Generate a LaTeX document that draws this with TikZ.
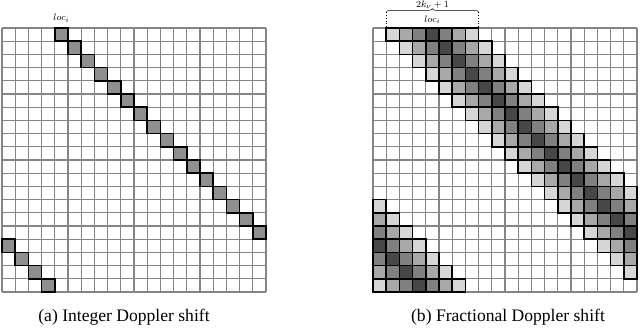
\documentclass[tikz,border=0pt]{standalone}
\usepackage{fontspec}
\setmainfont{Liberation Serif}
\usetikzlibrary{decorations.pathreplacing}
\tikzset{
  gridline/.style={draw=black!48, line width=1.1pt},
  hitcell/.style={draw=black, line width=1.3pt, fill=black!44},
  bandcell/.style={draw=black, line width=1.3pt},
  caption/.style={font=\fontsize{15}{18}\selectfont},
  tag/.style={font=\footnotesize, inner sep=1pt},
}
\begin{document}
\begin{tikzpicture}[x=0.03cm, y=0.03cm]
  \useasboundingbox (0,0) rectangle (640,334);
  % (a) integer shift
  \begin{scope}[xshift=0.06cm, yshift=1.26cm, x=0.396cm, y=0.396cm]
    \foreach \i in {0,...,20} {
      \draw[gridline] (\i,0) -- (\i,20);
      \draw[gridline] (0,\i) -- (20,\i);
    }
    \foreach \r in {0,...,19} {
      \pgfmathtruncatemacro\c{mod(4+\r,20)}
      \draw[hitcell] (\c,19-\r) rectangle ++(1,1);
    }
    \node[tag] (locA) at (4.5,20.75) {$loc_i$};
  \end{scope}
  % (b) fractional shift
  \begin{scope}[xshift=11.19cm, yshift=1.26cm, x=0.396cm, y=0.396cm]
    \foreach \i in {0,...,20} {
      \draw[gridline] (\i,0) -- (\i,20);
      \draw[gridline] (0,\i) -- (20,\i);
    }
    \foreach \r in {0,...,19} {
      \foreach \d/\p in {-3/16,-2/34,-1/50,0/72,1/50,2/34,3/16} {
        \pgfmathtruncatemacro\c{mod(24+\r+\d,20)}
        \draw[bandcell, fill=black!\p] (\c,19-\r) rectangle ++(1,1);
      }
    }
    \coordinate (braceL) at (1,21.2);
    \coordinate (braceR) at (8,21.2);
    \coordinate (gridL) at (1,20);
    \coordinate (gridR) at (8,20);
    \draw[decorate, decoration={brace, amplitude=3pt}] (braceL) -- (braceR);
    \draw[dotted] (braceL) -- (gridL);
    \draw[dotted] (braceR) -- (gridR);
    \node[tag] (width) at (4.5,21.78) {$2k_\nu+1$};
    \node[tag] (locB) at (4.5,20.62) {$loc_i$};
  \end{scope}
  \node[caption] (capA) at (124,17) {(a) Integer Doppler shift};
  \node[caption] (capB) at (508,17) {(b) Fractional Doppler shift};
\end{tikzpicture}
\end{document}
